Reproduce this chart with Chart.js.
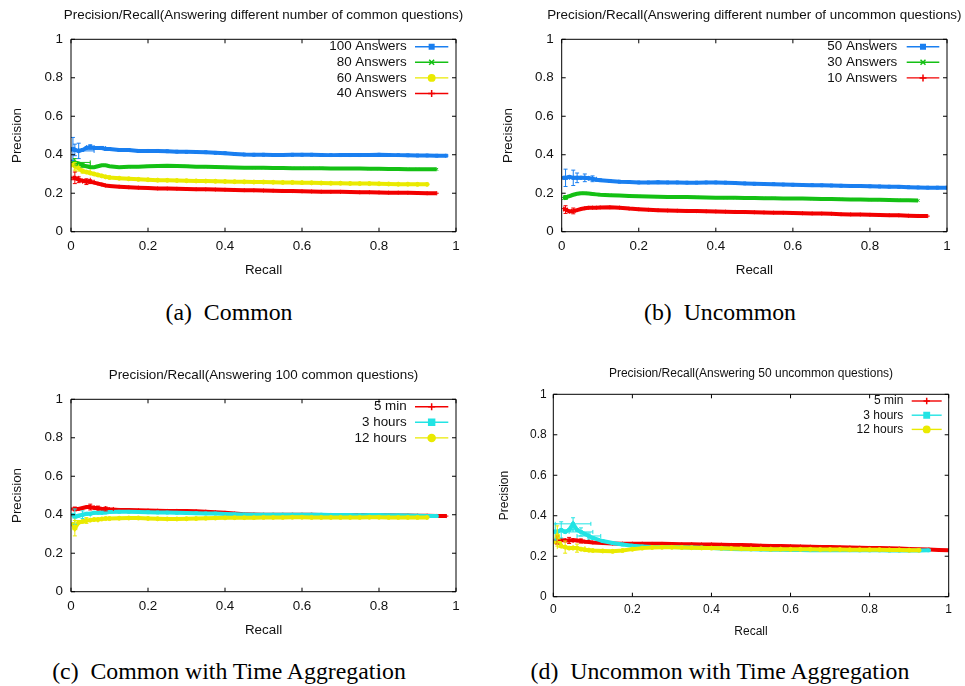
<!DOCTYPE html>
<html>
<head>
<meta charset="utf-8">
<script src="https://cdn.jsdelivr.net/npm/chart.js@4.4.0/dist/chart.umd.min.js"></script>
<style>
  body { margin: 0; width: 965px; height: 686px; background: #fff; position: relative; overflow: hidden; }
  .panel { position: absolute; }
  .cap { position: absolute; font-family: "Liberation Serif", "Times New Roman", serif; font-size: 23.8px; line-height: 24px; text-align: center; color: #000; white-space: nowrap; }
</style>
</head>
<body>
<div class="panel" style="left:0;top:0;width:480px;height:290px"><canvas id="chartA"></canvas></div>
<div class="panel" style="left:480px;top:0;width:485px;height:290px"><canvas id="chartB"></canvas></div>
<div class="panel" style="left:0;top:360px;width:480px;height:290px"><canvas id="chartC"></canvas></div>
<div class="panel" style="left:480px;top:360px;width:485px;height:290px"><canvas id="chartD"></canvas></div>
<div class="cap" style="left:0;top:300px;width:458px">(a)&ensp;Common</div>
<div class="cap" style="left:480px;top:300px;width:480px">(b)&ensp;Uncommon</div>
<div class="cap" style="left:0;top:659px;width:458px">(c)&ensp;Common with Time Aggregation</div>
<div class="cap" style="left:480px;top:659px;width:480px">(d)&ensp;Uncommon with Time Aggregation</div>
<script>
// recall grid shared by every series (x values)
const recall = [0.005, 0.01, 0.02, 0.03, 0.04, 0.05, 0.06, 0.07, 0.08, 0.09, 0.1,
  0.125, 0.15, 0.175, 0.2, 0.225, 0.25, 0.275, 0.3, 0.325, 0.35, 0.375, 0.4,
  0.425, 0.45, 0.475, 0.5, 0.525, 0.55, 0.575, 0.6, 0.625, 0.65, 0.675, 0.7,
  0.725, 0.75, 0.775, 0.8, 0.825, 0.85, 0.875, 0.9, 0.925, 0.95, 0.975, 1.0];
const tickValues = [0, 0.2, 0.4, 0.6, 0.8, 1];

// (a) common questions
const commonLabels = ['100 Answers', '80 Answers', '60 Answers', '40 Answers'];
const commonAns100 = [0.43, 0.425, 0.42, 0.425, 0.435, 0.44, 0.435, 0.435, 0.435, 0.43, 0.43,
  0.425, 0.425, 0.42, 0.42, 0.42, 0.418, 0.416, 0.415, 0.414, 0.413, 0.41, 0.408,
  0.404, 0.401, 0.40, 0.40, 0.399, 0.399, 0.40, 0.40, 0.40, 0.399, 0.398, 0.398,
  0.398, 0.398, 0.399, 0.40, 0.399, 0.398, 0.397, 0.396, 0.396, 0.395, 0.395, null];
const commonAns80 = [0.37, 0.36, 0.355, 0.345, 0.34, 0.335, 0.335, 0.34, 0.345, 0.345, 0.34,
  0.335, 0.337, 0.338, 0.34, 0.341, 0.343, 0.342, 0.34, 0.338, 0.337, 0.336, 0.335,
  0.334, 0.333, 0.332, 0.332, 0.331, 0.331, 0.33, 0.33, 0.33, 0.33, 0.329, 0.329,
  0.328, 0.328, 0.327, 0.327, 0.326, 0.326, 0.325, 0.325, 0.324, 0.324, null, null];
const commonAns60 = [0.35, 0.34, 0.33, 0.315, 0.31, 0.305, 0.30, 0.295, 0.29, 0.285, 0.282,
  0.278, 0.275, 0.272, 0.27, 0.268, 0.267, 0.266, 0.265, 0.264, 0.263, 0.262, 0.261,
  0.26, 0.259, 0.258, 0.258, 0.257, 0.256, 0.256, 0.255, 0.254, 0.253, 0.252, 0.252,
  0.251, 0.25, 0.25, 0.249, 0.248, 0.247, 0.247, 0.246, 0.246, null, null, null];
const commonAns40 = [0.28, 0.28, 0.27, 0.265, 0.26, 0.26, 0.255, 0.25, 0.245, 0.24, 0.238,
  0.234, 0.231, 0.229, 0.227, 0.225, 0.224, 0.223, 0.222, 0.221, 0.22, 0.219, 0.218,
  0.217, 0.216, 0.215, 0.214, 0.213, 0.212, 0.211, 0.21, 0.209, 0.208, 0.207, 0.207,
  0.206, 0.205, 0.205, 0.204, 0.203, 0.203, 0.202, 0.201, 0.2, 0.2, null, null];

// (b) uncommon questions
const uncommonLabels = ['50 Answers', '30 Answers', '10 Answers'];
const uncommonAns50 = [0.28, 0.28, 0.285, 0.28, 0.28, 0.28, 0.28, 0.278, 0.275, 0.27, 0.268,
  0.264, 0.26, 0.258, 0.256, 0.256, 0.257, 0.256, 0.256, 0.255, 0.255, 0.256, 0.256,
  0.255, 0.253, 0.251, 0.249, 0.248, 0.247, 0.245, 0.244, 0.243, 0.242, 0.241, 0.24,
  0.239, 0.238, 0.237, 0.236, 0.235, 0.234, 0.233, 0.231, 0.23, 0.229, 0.229, 0.229];
const uncommonAns30 = [0.172, 0.178, 0.185, 0.192, 0.197, 0.2, 0.2, 0.198, 0.196, 0.194, 0.192,
  0.19, 0.188, 0.186, 0.184, 0.183, 0.182, 0.181, 0.18, 0.18, 0.179, 0.178, 0.177,
  0.176, 0.176, 0.175, 0.175, 0.174, 0.174, 0.173, 0.172, 0.172, 0.171, 0.17, 0.17,
  0.169, 0.168, 0.167, 0.166, 0.166, 0.165, 0.164, 0.163, 0.162, null, null, null];
const uncommonAns10 = [0.12, 0.115, 0.105, 0.108, 0.112, 0.118, 0.122, 0.124, 0.125, 0.125, 0.126,
  0.127, 0.125, 0.12, 0.117, 0.114, 0.112, 0.11, 0.109, 0.108, 0.107, 0.106, 0.105,
  0.104, 0.103, 0.102, 0.101, 0.1, 0.099, 0.098, 0.097, 0.096, 0.095, 0.094, 0.093,
  0.091, 0.09, 0.089, 0.088, 0.087, 0.086, 0.085, 0.083, 0.082, 0.081, null, null];

// (c) and (d) time aggregation
const timeLabels = ['5 min', '3 hours', '12 hours'];
const commonMin5 = [0.43, 0.43, 0.43, 0.435, 0.44, 0.44, 0.435, 0.435, 0.43, 0.43, 0.428,
  0.425, 0.424, 0.423, 0.422, 0.421, 0.42, 0.42, 0.419, 0.418, 0.416, 0.413, 0.41,
  0.406, 0.403, 0.401, 0.40, 0.40, 0.40, 0.40, 0.40, 0.40, 0.399, 0.399, 0.398,
  0.398, 0.398, 0.398, 0.397, 0.397, 0.396, 0.396, 0.395, 0.395, 0.394, 0.393, null];
const commonHours3 = [0.40, 0.39, 0.395, 0.40, 0.405, 0.405, 0.41, 0.41, 0.41, 0.412, 0.414,
  0.415, 0.415, 0.414, 0.413, 0.412, 0.411, 0.41, 0.409, 0.408, 0.407, 0.406, 0.404,
  0.402, 0.401, 0.40, 0.40, 0.40, 0.40, 0.40, 0.40, 0.40, 0.40, 0.399, 0.399,
  0.399, 0.398, 0.398, 0.398, 0.397, 0.397, 0.396, 0.395, 0.394, 0.393, null, null];
const commonHours12 = [0.35, 0.33, 0.36, 0.365, 0.37, 0.372, 0.375, 0.375, 0.378, 0.38, 0.38,
  0.382, 0.383, 0.383, 0.381, 0.379, 0.378, 0.378, 0.379, 0.38, 0.382, 0.383, 0.384,
  0.385, 0.385, 0.385, 0.386, 0.386, 0.386, 0.387, 0.387, 0.386, 0.386, 0.386, 0.386,
  0.386, 0.386, 0.387, 0.387, 0.386, 0.386, 0.386, 0.386, 0.386, null, null, null];
const uncommonMin5 = [0.28, 0.28, 0.28, 0.278, 0.278, 0.28, 0.278, 0.275, 0.272, 0.27, 0.268,
  0.265, 0.263, 0.262, 0.262, 0.262, 0.261, 0.261, 0.26, 0.259, 0.259, 0.258, 0.258,
  0.257, 0.256, 0.255, 0.254, 0.252, 0.251, 0.25, 0.249, 0.248, 0.247, 0.246, 0.245,
  0.244, 0.243, 0.242, 0.241, 0.24, 0.239, 0.238, 0.236, 0.235, 0.233, 0.231, 0.23];
const uncommonHours3 = [0.32, 0.32, 0.33, 0.32, 0.33, 0.36, 0.33, 0.32, 0.31, 0.30, 0.29,
  0.275, 0.265, 0.258, 0.252, 0.248, 0.245, 0.245, 0.245, 0.244, 0.243, 0.242, 0.24,
  0.238, 0.236, 0.235, 0.234, 0.233, 0.232, 0.232, 0.231, 0.231, 0.23, 0.23, 0.23,
  0.23, 0.23, 0.229, 0.229, 0.229, 0.228, 0.228, 0.228, 0.228, 0.229, null, null];
const uncommonHours12 = [0.27, 0.30, 0.25, 0.245, 0.24, 0.24, 0.24, 0.235, 0.232, 0.23, 0.228,
  0.226, 0.224, 0.228, 0.235, 0.24, 0.243, 0.244, 0.244, 0.243, 0.242, 0.241, 0.24,
  0.239, 0.238, 0.237, 0.236, 0.236, 0.235, 0.235, 0.234, 0.234, 0.234, 0.233, 0.233,
  0.233, 0.232, 0.232, 0.232, 0.232, 0.231, 0.231, 0.23, 0.23, null, null, null];

// error bars: [index into recall, recall half-width, precision half-width]
const commonAns100Err = [[0, 0.005, 0.06], [1, 0.01, 0.03], [2, 0.04, 0.04], [5, 0.01, 0.012], [8, 0.01, 0.008]];
const commonAns80Err = [[1, 0.04, 0.02], [3, 0.02, 0.01]];
const commonAns60Err = [[1, 0.01, 0.02], [3, 0.02, 0.01]];
const commonAns40Err = [[1, 0.01, 0.03], [2, 0.03, 0.015], [4, 0.01, 0.015], [5, 0.01, 0.01]];
const uncommonAns50Err = [[1, 0.005, 0.045], [3, 0.01, 0.04], [4, 0.01, 0.025], [6, 0.01, 0.02], [8, 0.01, 0.015]];
const uncommonAns30Err = [[1, 0.005, 0.01]];
const uncommonAns10Err = [[1, 0.005, 0.02], [3, 0.005, 0.015]];
const commonMin5Err = [[1, 0.01, 0.01], [5, 0.01, 0.015], [7, 0.02, 0.01], [9, 0.02, 0.01]];
const commonHours3Err = [[1, 0.005, 0.04], [3, 0.02, 0.02]];
const commonHours12Err = [[1, 0.005, 0.04], [4, 0.03, 0.015]];
const uncommonMin5Err = [[1, 0.02, 0.02], [4, 0.03, 0.015], [7, 0.02, 0.01]];
const uncommonHours3Err = [[0, 0.005, 0.04], [2, 0.03, 0.04], [5, 0.045, 0.03], [7, 0.03, 0.02], [9, 0.03, 0.015]];
const uncommonHours12Err = [[1, 0.005, 0.05], [3, 0.02, 0.03], [6, 0.02, 0.02]];

const FONT = '"Liberation Sans", Arial, Helvetica, sans-serif';
const BLUE = '#1a7ff0', GREEN = '#14c014', YELLOW = '#eaea00', RED = '#f20000', CYAN = '#22e4e4';

// gnuplot-like box, inward ticks, error bars, key and labels
const gnuFrame = {
  id: 'gnuFrame',
  afterDatasetsDraw(chart, args, o) {
    const { ctx, chartArea: a } = chart;
    const xs = chart.scales.x, ys = chart.scales.y;
    const seg = (x0, y0, x1, y1) => { ctx.moveTo(x0, y0); ctx.lineTo(x1, y1); };
    ctx.save();

    // error bars
    ctx.save();
    ctx.beginPath();
    ctx.rect(a.left, a.top, a.width, a.height);
    ctx.clip();
    chart.data.datasets.forEach(ds => {
      ctx.strokeStyle = ds.borderColor;
      ctx.lineWidth = 1;
      ctx.beginPath();
      (ds.errors || []).forEach(([k, dx, dy]) => {
        const r = recall[k], p = ds.values[k];
        const cx = xs.getPixelForValue(r), cy = ys.getPixelForValue(p);
        const x0 = xs.getPixelForValue(r - dx), x1 = xs.getPixelForValue(r + dx);
        const y0 = ys.getPixelForValue(p - dy), y1 = ys.getPixelForValue(p + dy);
        seg(x0, cy, x1, cy); seg(x0, cy - 2, x0, cy + 2); seg(x1, cy - 2, x1, cy + 2);
        seg(cx, y0, cx, y1); seg(cx - 2, y0, cx + 2, y0); seg(cx - 2, y1, cx + 2, y1);
      });
      ctx.stroke();
    });
    ctx.restore();

    // border and mirrored inward ticks
    ctx.strokeStyle = '#000';
    ctx.lineWidth = 1;
    ctx.beginPath();
    ctx.rect(a.left, a.top, a.width, a.height);
    xs.ticks.forEach(t => {
      const px = xs.getPixelForValue(t.value);
      seg(px, a.bottom, px, a.bottom - 4);
      seg(px, a.top, px, a.top + 4);
    });
    ys.ticks.forEach(t => {
      const py = ys.getPixelForValue(t.value);
      seg(a.left, py, a.left + 4, py);
      seg(a.right, py, a.right - 4, py);
    });
    ctx.stroke();

    // texts
    ctx.fillStyle = '#111';
    ctx.font = o.fontSize + 'px ' + FONT;
    ctx.textBaseline = 'middle';
    ctx.textAlign = 'center';
    const midX = (a.left + a.right) / 2;
    ctx.fillText(o.title, midX, o.titleY);
    ctx.fillText('Recall', midX, o.xTitleY);
    ctx.save();
    ctx.translate(o.yTitleX, (a.top + a.bottom) / 2);
    ctx.rotate(-Math.PI / 2);
    ctx.fillText('Precision', 0, 0);
    ctx.restore();

    // key
    const L = o.key;
    chart.data.datasets.forEach((ds, i) => {
      const ry = a.top + L.top + i * L.step;
      ctx.fillStyle = '#111';
      ctx.textAlign = 'right';
      ctx.fillText(ds.label, a.right - L.text, ry);
      ctx.strokeStyle = ds.borderColor;
      ctx.lineWidth = 1.4;
      ctx.beginPath();
      seg(a.right - L.from, ry, a.right - L.to, ry);
      ctx.stroke();
      ctx.fillStyle = ds.borderColor;
      ctx.lineWidth = 1.5;
      Chart.helpers.drawPoint(ctx, { pointStyle: ds.pointStyle, radius: ds.keyRadius, borderWidth: 1.5, rotation: 0 },
        a.right - (L.from + L.to) / 2, ry);
    });
    ctx.restore();
  }
};

function drawPanel(id, series, p) {
  const datasets = series.map((s, i) => ({
    label: s.label,
    data: recall.map((r, k) => ({ x: r, y: s.values[k] })).filter(d => d.y !== null),
    values: s.values,
    errors: s.errors,
    borderColor: s.color,
    backgroundColor: s.color,
    pointBackgroundColor: s.color,
    borderWidth: 4,
    pointStyle: s.marker,
    pointRadius: 2,
    pointBorderWidth: 1,
    keyRadius: s.keyRadius,
    tension: 0,
    order: -i
  }));
  const tickFont = { family: FONT, size: p.fontSize };
  return new Chart(document.getElementById(id), {
    type: 'line',
    data: { datasets },
    options: {
      responsive: true,
      maintainAspectRatio: false,
      animation: false,
      events: [],
      layout: { padding: { left: 0, top: p.top, right: p.right, bottom: p.bottom } },
      plugins: {
        legend: { display: false },
        tooltip: { enabled: false },
        gnuFrame: p.frame
      },
      scales: {
        x: {
          type: 'linear', min: 0, max: 1,
          grid: { display: false, drawTicks: false },
          border: { display: false },
          afterBuildTicks: s => { s.ticks = tickValues.map(v => ({ value: v })); },
          afterFit: s => { s.height = 40; },
          ticks: { font: tickFont, color: '#111', padding: p.xPad, maxRotation: 0,
            callback: v => String(+v.toFixed(1)) }
        },
        y: {
          type: 'linear', min: 0, max: 1,
          grid: { display: false, drawTicks: false },
          border: { display: false },
          afterBuildTicks: s => { s.ticks = tickValues.map(v => ({ value: v })); },
          afterFit: s => { s.width = p.left; },
          ticks: { font: tickFont, color: '#111', padding: p.yPad,
            callback: v => String(+v.toFixed(1)) }
        }
      }
    },
    plugins: [gnuFrame]
  });
}

drawPanel('chartA', [
  { label: commonLabels[0], values: commonAns100, errors: commonAns100Err, color: BLUE, marker: 'rect', keyRadius: 3.2 },
  { label: commonLabels[1], values: commonAns80, errors: commonAns80Err, color: GREEN, marker: 'crossRot', keyRadius: 3.5 },
  { label: commonLabels[2], values: commonAns60, errors: commonAns60Err, color: YELLOW, marker: 'circle', keyRadius: 3.2 },
  { label: commonLabels[3], values: commonAns40, errors: commonAns40Err, color: RED, marker: 'cross', keyRadius: 3.5 }
], { left: 71, top: 39.3, right: 24, bottom: 18.3, fontSize: 13.4, xPad: 7, yPad: 8,
  frame: { title: 'Precision/Recall(Answering different number of common questions)', fontSize: 13.4,
    titleY: 15, xTitleY: 270, yTitleX: 17,
    key: { text: 49.3, from: 41, to: 7.7, top: 7.4, step: 15.6 } } });

drawPanel('chartB', [
  { label: uncommonLabels[0], values: uncommonAns50, errors: uncommonAns50Err, color: BLUE, marker: 'rect', keyRadius: 3.2 },
  { label: uncommonLabels[1], values: uncommonAns30, errors: uncommonAns30Err, color: GREEN, marker: 'crossRot', keyRadius: 3.5 },
  { label: uncommonLabels[2], values: uncommonAns10, errors: uncommonAns10Err, color: RED, marker: 'cross', keyRadius: 3.5 }
], { left: 81.7, top: 39.3, right: 18, bottom: 18.3, fontSize: 13.4, xPad: 7, yPad: 8,
  frame: { title: 'Precision/Recall(Answering different number of uncommon questions)', fontSize: 13.4,
    titleY: 15, xTitleY: 270, yTitleX: 28,
    key: { text: 49.7, from: 40.3, to: 7.7, top: 7.4, step: 15.6 } } });

drawPanel('chartC', [
  { label: timeLabels[0], values: commonMin5, errors: commonMin5Err, color: RED, marker: 'cross', keyRadius: 3.5 },
  { label: timeLabels[1], values: commonHours3, errors: commonHours3Err, color: CYAN, marker: 'rect', keyRadius: 4.2 },
  { label: timeLabels[2], values: commonHours12, errors: commonHours12Err, color: YELLOW, marker: 'circle', keyRadius: 3.5 }
], { left: 71, top: 39.3, right: 24, bottom: 18.3, fontSize: 13.4, xPad: 7, yPad: 8,
  frame: { title: 'Precision/Recall(Answering 100 common questions)', fontSize: 13.4,
    titleY: 15, xTitleY: 270, yTitleX: 17,
    key: { text: 49.3, from: 41, to: 7.7, top: 7.4, step: 15.6 } } });

drawPanel('chartD', [
  { label: timeLabels[0], values: uncommonMin5, errors: uncommonMin5Err, color: RED, marker: 'cross', keyRadius: 3.2 },
  { label: timeLabels[1], values: uncommonHours3, errors: uncommonHours3Err, color: CYAN, marker: 'rect', keyRadius: 3.8 },
  { label: timeLabels[2], values: uncommonHours12, errors: uncommonHours12Err, color: YELLOW, marker: 'circle', keyRadius: 3.2 }
], { left: 73.3, top: 34.3, right: 16.3, bottom: 13.3, fontSize: 12, xPad: 5.5, yPad: 6.6,
  frame: { title: 'Precision/Recall(Answering 50 uncommon questions)', fontSize: 12,
    titleY: 13.3, xTitleY: 271.7, yTitleX: 25,
    key: { text: 45.4, from: 37, to: 7, top: 6.7, step: 14.2 } } });
</script>
</body>
</html>
